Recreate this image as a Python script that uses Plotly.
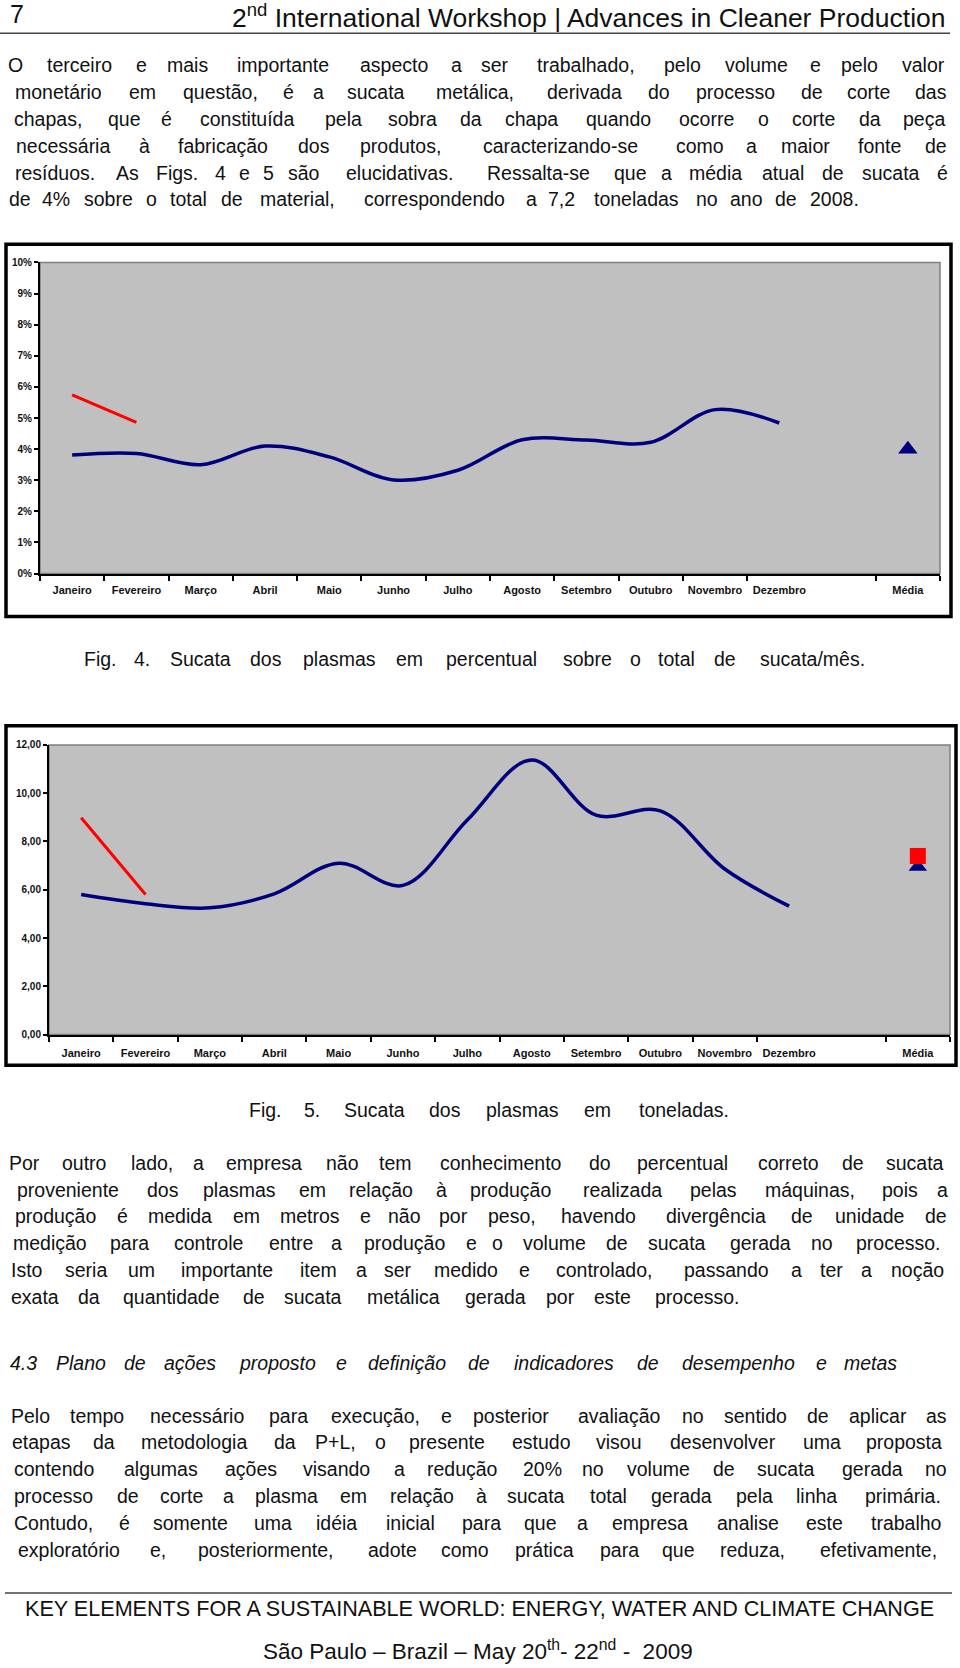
import unicodedata
import plotly.graph_objects as go

W, H = 960, 1668

# ---------------- chart data ----------------
months = ["Janeiro", "Fevereiro", "Março", "Abril", "Maio", "Junho", "Julho",
          "Agosto", "Setembro", "Outubro", "Novembro", "Dezembro"]
categories = months + [" ", "Média"]
tick_labels = months + ["Média"]

# Fig. 4 – % of scrap
pct_plasma = [3.81, 3.86, 3.50, 4.10, 3.75, 3.01, 3.32, 4.30, 4.29, 4.22, 5.27, 4.84]
pct_red_months = ["Janeiro", "Fevereiro"]
pct_red = [5.74, 4.86]
pct_media = [4.0]

# Fig. 5 – tonnes
ton_plasma = [5.80, 5.42, 5.25, 5.83, 7.10, 6.18, 8.89, 11.38, 9.09, 9.27, 6.86, 5.32]
ton_red_months = ["Janeiro", "Fevereiro"]
ton_red = [8.98, 5.80]
ton_media_blue = [6.95]
ton_media_red = [7.40]

pct_ticks = list(range(0, 11))
pct_ticktext = [f"{v}%" for v in pct_ticks]
ton_ticks = [0, 2, 4, 6, 8, 10, 12]

# ---------------- page text ----------------
p1 = ["O terceiro e mais importante aspecto a ser trabalhado, pelo volume e pelo valor",
      "monetário em questão, é a sucata metálica, derivada do processo de corte das",
      "chapas, que é constituída pela sobra da chapa quando ocorre o corte da peça",
      "necessária à fabricação dos produtos, caracterizando-se como a maior fonte de",
      "resíduos. As Figs. 4 e 5 são elucidativas. Ressalta-se que a média atual de sucata é",
      "de 4% sobre o total de material, correspondendo a 7,2 toneladas no ano de 2008."]
cap4 = "Fig. 4. Sucata dos plasmas em percentual sobre o total de sucata/mês."
cap5 = "Fig. 5. Sucata dos plasmas em toneladas."
p2 = ["Por outro lado, a empresa não tem conhecimento do percentual correto de sucata",
      "proveniente dos plasmas em relação à produção realizada pelas máquinas, pois a",
      "produção é medida em metros e não por peso, havendo divergência de unidade de",
      "medição para controle entre a produção e o volume de sucata gerada no processo.",
      "Isto seria um importante item a ser medido e controlado, passando a ter a noção",
      "exata da quantidade de sucata metálica gerada por este processo."]
heading = "4.3 Plano de ações proposto e definição de indicadores de desempenho e metas"
p3 = ["Pelo tempo necessário para execução, e posterior avaliação no sentido de aplicar as",
      "etapas da metodologia da P+L, o presente estudo visou desenvolver uma proposta",
      "contendo algumas ações visando a redução 20% no volume de sucata gerada no",
      "processo de corte a plasma em relação à sucata total gerada pela linha primária.",
      "Contudo, é somente uma idéia inicial para que a empresa analise este trabalho",
      "exploratório e, posteriormente, adote como prática para que reduza, efetivamente,"]

NAVY = "#00007f"
RED = "#ff0000"
BODY_FONT = "Liberation Sans, Arial, Helvetica, sans-serif"
BODY_SIZE = 19.5

# Arial advance widths (1/1000 em) for word-width estimation
AW = {}
AW.update(zip(" !\"#$%&'()*+,-./0123456789:;<=>?@",
              [278, 278, 355, 556, 556, 889, 667, 191, 333, 333, 389, 584, 278, 333, 278, 278,
               556, 556, 556, 556, 556, 556, 556, 556, 556, 556, 278, 278, 584, 584, 584, 556, 1015]))
AW.update(zip("ABCDEFGHIJKLMNOPQRSTUVWXYZ",
              [667, 667, 722, 722, 667, 611, 778, 722, 278, 500, 667, 556, 833, 722, 778, 667,
               778, 722, 667, 611, 722, 667, 944, 667, 667, 611]))
AW.update(zip("abcdefghijklmnopqrstuvwxyz",
              [556, 556, 500, 556, 556, 278, 556, 556, 222, 222, 500, 222, 833, 556, 556, 556,
               556, 333, 500, 278, 556, 500, 722, 500, 500, 500]))


def est_width(word, fs=19, ls=2.1):
    tot = 0
    for c in word:
        base = unicodedata.normalize("NFD", c)[0]
        tot += AW.get(c, AW.get(base, 556))
    return tot / 1000 * fs + ls * len(word)


annotations = []


def add_line(text, x0, x1, yc, size=BODY_SIZE, italic=False):
    words = text.split()
    ws = [est_width(w) for w in words]
    gap = (x1 - x0 - sum(ws)) / (len(words) - 1) if len(words) > 1 else 0
    x = x0
    for w, wd in zip(words, ws):
        annotations.append(dict(
            x=(x + wd / 2) / W, y=1 - yc / H, xref="paper", yref="paper",
            text=w, showarrow=False, xanchor="center", yanchor="middle",
            font=dict(family=BODY_FONT, size=size, color="#111111",
                      style="italic" if italic else "normal")))
        x += wd + gap


XL, XR = 7, 949
p1_y = [59.5, 86.3, 113.9, 140.6, 168.2, 194.8]
for i, (t, y) in enumerate(zip(p1, p1_y)):
    add_line(t, XL, XR if i < len(p1) - 1 else 864, y)
add_line(cap4, 80, 875, 657.5)
add_line(cap5, 245, 738, 1111.5)
p2_y = [1165.3, 1192.5, 1219.1, 1245.7, 1273.4, 1300.0]
for i, (t, y) in enumerate(zip(p2, p2_y)):
    add_line(t, XL, XR if i < len(p2) - 1 else 748, y)
add_line(heading, XL, 902, 1366.6, italic=True)
p3_y = [1419.8, 1446.4, 1474.0, 1500.7, 1528.3, 1554.9]
for t, y in zip(p3, p3_y):
    add_line(t, XL, XR, y)

HEAD_FONT = "Liberation Sans, Arial, sans-serif"
annotations.append(dict(x=8 / W, y=1 - 8 / H, xref="paper", yref="paper", text="7",
                        showarrow=False, xanchor="left", yanchor="middle",
                        font=dict(family=HEAD_FONT, size=25, color="#111")))
annotations.append(dict(x=948 / W, y=1 - 10 / H, xref="paper", yref="paper",
                        text="2<sup>nd</sup> International Workshop | Advances in Cleaner Production",
                        showarrow=False, xanchor="right", yanchor="middle",
                        font=dict(family=HEAD_FONT, size=26.5, color="#111")))
annotations.append(dict(x=479 / W, y=1 - 1614 / H, xref="paper", yref="paper",
                        text="KEY ELEMENTS FOR A SUSTAINABLE WORLD: ENERGY, WATER AND CLIMATE CHANGE",
                        showarrow=False, xanchor="center", yanchor="middle",
                        font=dict(family=HEAD_FONT, size=21.6, color="#111")))
annotations.append(dict(x=478 / W, y=1 - 1656 / H, xref="paper", yref="paper",
                        text="São Paulo – Brazil – May 20<sup>th</sup>- 22<sup>nd</sup> -  2009",
                        showarrow=False, xanchor="center", yanchor="middle",
                        font=dict(family=HEAD_FONT, size=22.5, color="#111")))

# ---------------- figure ----------------
fig = go.Figure()

# Fig. 4
fig.add_trace(go.Scatter(x=months, y=pct_plasma, mode="lines", line=dict(color=NAVY, width=3.5, shape="spline"),
                         xaxis="x", yaxis="y", hoverinfo="skip"))
fig.add_trace(go.Scatter(x=pct_red_months, y=pct_red, mode="lines", line=dict(color=RED, width=3),
                         xaxis="x", yaxis="y", hoverinfo="skip"))
fig.add_trace(go.Scatter(x=["Média"], y=pct_media, mode="markers",
                         marker=dict(symbol="triangle-up", size=17, color=NAVY),
                         xaxis="x", yaxis="y", hoverinfo="skip"))

# Fig. 5
fig.add_trace(go.Scatter(x=months, y=ton_plasma, mode="lines", line=dict(color=NAVY, width=3.5, shape="spline"),
                         xaxis="x2", yaxis="y2", hoverinfo="skip"))
fig.add_trace(go.Scatter(x=ton_red_months, y=ton_red, mode="lines", line=dict(color=RED, width=3),
                         xaxis="x2", yaxis="y2", hoverinfo="skip"))
fig.add_trace(go.Scatter(x=["Média"], y=ton_media_blue, mode="markers",
                         marker=dict(symbol="triangle-up", size=16, color=NAVY),
                         xaxis="x2", yaxis="y2", hoverinfo="skip"))
fig.add_trace(go.Scatter(x=["Média"], y=ton_media_red, mode="markers",
                         marker=dict(symbol="square", size=16, color=RED),
                         xaxis="x2", yaxis="y2", hoverinfo="skip"))


def xax(domain, anchor, standoff):
    return dict(domain=domain, anchor=anchor, type="category", categoryorder="array",
                categoryarray=categories, range=[-0.5, len(categories) - 0.5],
                tickvals=tick_labels, ticktext=tick_labels,
                tickson="boundaries", ticks="outside",
                ticklen=5, tickwidth=1.5, tickcolor="black", showline=True, linecolor="black",
                linewidth=2, showgrid=False, zeroline=False, ticklabelstandoff=standoff,
                tickfont=dict(family="Liberation Sans, Arial, sans-serif", size=11, color="#111", weight="bold"),
                fixedrange=True)


def yax(domain, rng, tickvals, anchor, **kw):
    d = dict(domain=domain, range=rng, tickvals=tickvals, ticks="outside", ticklen=4,
             tickwidth=1.5, tickcolor="black", showline=True, linecolor="black", linewidth=2,
             showgrid=False, zeroline=False, anchor=anchor,
             tickfont=dict(family="Liberation Sans, Arial, sans-serif", size=10, color="#111", weight="bold"),
             fixedrange=True)
    d.update(kw)
    return d


c1 = dict(l=40, r=940, t=258.3, b=571.7)
c2 = dict(l=49, r=950, t=744.3, b=1036)

shapes = []
for fr, xa, ya in [((6, 951, 240, 615), "x", "y"), ((6, 956, 725, 1067), "x2", "y2")]:
    shapes.append(dict(type="rect", xref="paper", yref="paper", layer="below",
                       x0=fr[0] / W, x1=fr[1] / W, y0=1 - fr[3] / H, y1=1 - fr[2] / H,
                       line=dict(color="black", width=3.5), fillcolor="white"))
    shapes.append(dict(type="rect", xref=xa + " domain", yref=ya + " domain", layer="below",
                       x0=0, x1=1, y0=0, y1=1, line=dict(color="#7f7f7f", width=1.5),
                       fillcolor="#c0c0c0"))
# header / footer rules
shapes.append(dict(type="line", xref="paper", yref="paper", x0=0, x1=950 / W,
                   y0=1 - 27.5 / H, y1=1 - 27.5 / H, line=dict(color="#444", width=1.5)))
shapes.append(dict(type="line", xref="paper", yref="paper", x0=5 / W, x1=952 / W,
                   y0=1 - 1598.6 / H, y1=1 - 1598.6 / H, line=dict(color="#444", width=1.5)))

fig.update_layout(
    width=W, height=H, margin=dict(l=0, r=0, t=0, b=0),
    paper_bgcolor="white", plot_bgcolor="rgba(0,0,0,0)", showlegend=False,
    separators=",.",
    xaxis=xax([c1["l"] / W, c1["r"] / W], "y", 5),
    yaxis=yax([1 - c1["b"] / H, 1 - c1["t"] / H], [0, 10], pct_ticks, "x", ticktext=pct_ticktext),
    xaxis2=xax([c2["l"] / W, c2["r"] / W], "y2", 7),
    yaxis2=yax([1 - c2["b"] / H, 1 - c2["t"] / H], [0, 12], ton_ticks, "x2", tickformat=".2f"),
    shapes=shapes, annotations=annotations,
)

fig.write_html("out.html")
